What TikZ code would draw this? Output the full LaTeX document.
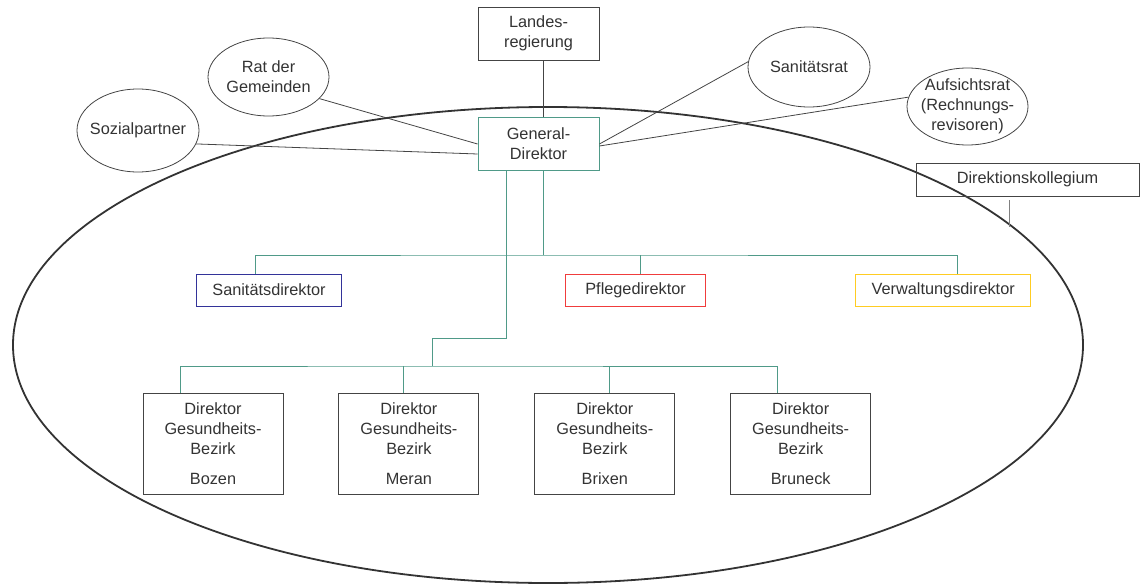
\documentclass[tikz,border=0pt]{standalone}
\usepackage{fontspec}
\setmainfont{Liberation Sans}
\usetikzlibrary{positioning,shapes.geometric}
\definecolor{txtgray}{HTML}{333333}
\definecolor{linegray}{HTML}{444444}
\definecolor{orggreen}{HTML}{4F9A88}
\definecolor{sanblue}{HTML}{333399}
\definecolor{pflred}{HTML}{F03C3C}
\definecolor{verwyel}{HTML}{FFCC22}

\begin{document}
\begin{tikzpicture}[
  x=1pt,y=-1pt,
  font=\fontsize{16.3}{20}\selectfont,text=txtgray,
  box/.style={draw=linegray,line width=0.9pt,minimum width=121pt,minimum height=53pt,align=center,inner sep=0pt},
  gdbox/.style={box,draw=orggreen},
  dirbox/.style={draw,line width=1pt,minimum width=140pt,minimum height=32pt,inner xsep=16pt,inner ysep=0pt},
  distbox/.style={box,minimum width=140pt,minimum height=101pt},
  oval/.style={ellipse,draw=linegray,line width=0.8pt,align=center,inner xsep=-14pt,inner ysep=-4pt},
  ln/.style={draw=linegray,line width=0.8pt},
  org/.style={draw=orggreen,line width=0.9pt},
  rim/.style={draw=txtgray,line width=1.8pt},
]
\useasboundingbox (0,0) rectangle (1140,586);

\draw[rim] (548,345) ellipse [x radius=535pt, y radius=238pt];

\node[gdbox] (gd) at (538.5,143.5) {General-\\Direktor};
\node[box,above=56pt of gd] (lr) {Landes-\\regierung};
\node[box,minimum width=223pt,minimum height=33pt] (dk) at (1027.5,179.5) {Direktionskollegium};

\node[oval,minimum width=122pt,minimum height=83pt] (sp) at (138,130.5) {Sozialpartner};
\node[oval,minimum width=121pt,minimum height=78pt] (rdg) at (268.5,77) {Rat der\\Gemeinden};
\node[oval,minimum width=122pt,minimum height=80pt] (sr) at (809,67) {Sanitätsrat};
\node[oval,minimum width=121pt,minimum height=77pt] (asr) at (967.5,106.5) {Aufsichtsrat\\(Rechnungs-\\revisoren)};

\node[dirbox,draw=sanblue] (sd) at (269,290) {Sanitätsdirektor};
\node[dirbox,draw=pflred,right=223pt of sd] (pd) {Pflegedirektor};
\node[dirbox,draw=verwyel,right=149pt of pd] (vd) {Verwaltungsdirektor};

\node[distbox] (bz) at (213,443.5) {Direktor\\Gesundheits-\\Bezirk\\[10pt]Bozen};
\node[distbox,right=55pt of bz] (me) {Direktor\\Gesundheits-\\Bezirk\\[10pt]Meran};
\node[distbox,right=55pt of me] (bx) {Direktor\\Gesundheits-\\Bezirk\\[10pt]Brixen};
\node[distbox,right=55pt of bx] (bk) {Direktor\\Gesundheits-\\Bezirk\\[10pt]Bruneck};

\coordinate (dirbar) at (543,255);
\coordinate (knee) at (432,338);
\coordinate (distbar) at (432,366);
\coordinate (dkend) at (1009,227);

\draw[ln] ([xshift=4.5pt]lr.south) -- ([xshift=4.5pt]gd.north);
\draw[ln] (rdg.-23) -- ([yshift=-0.5pt]gd.west);
\draw[ln] (sp.-13) -- ([yshift=-10.5pt]gd.west);
\draw[ln] (sr.175) -- ([yshift=-0.5pt]gd.east);
\draw[ln] (asr.171) -- ([yshift=-2.5pt]gd.east);
\draw[ln,draw=gray,shorten <=4pt] (dk.south -| dkend) -- (dkend);

\draw[org] ([xshift=4.5pt]gd.south) -- (dirbar);
\draw[org] ([xshift=-14pt]sd.north) |- (dirbar) -| ([xshift=14pt]vd.north);
\draw[org] ([xshift=5pt]pd.north) -- ([xshift=5pt]pd.north |- dirbar);

\draw[org] ([xshift=-32.5pt]gd.south) |- (knee) -- (distbar);
\draw[org] ([xshift=-33pt]bz.north) |- (distbar) -| ([xshift=-23pt]bk.north);
\draw[org] ([xshift=-5pt]me.north) -- ([xshift=-5pt]me.north |- distbar);
\draw[org] ([xshift=4.5pt]bx.north) -- ([xshift=4.5pt]bx.north |- distbar);
\end{tikzpicture}
\end{document}
